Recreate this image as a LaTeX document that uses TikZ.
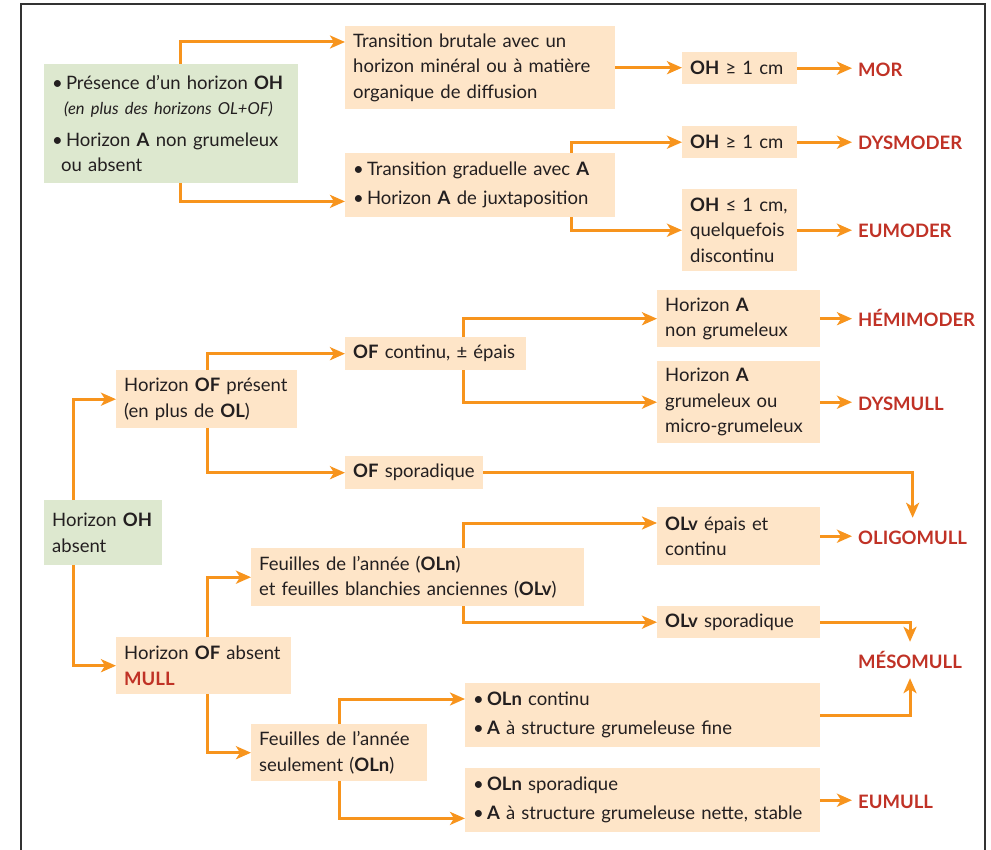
\documentclass[tikz,border=0pt]{standalone}
\usepackage{fontspec}
\setmainfont{Lato}
\usetikzlibrary{arrows.meta,positioning}
\definecolor{peach}{RGB}{254,229,200}
\definecolor{sage}{RGB}{221,232,207}
\definecolor{orng}{RGB}{247,148,29}
\definecolor{redlab}{RGB}{192,50,38}
\definecolor{txt}{RGB}{35,31,32}
\definecolor{frame}{RGB}{51,51,51}
\newcommand\smallit[1]{{\fontsize{16.5}{25}\selectfont\itshape #1}}
\newcommand\bul{\textbullet\,}
\tikzset{
    box/.style={fill=peach, anchor=north west, align=left, inner xsep=8pt, inner ysep=0pt, text=txt},
    gbox/.style={box, fill=sage},
    lab/.style={anchor=west, text=redlab, font=\fontsize{18.5}{22}\selectfont\bfseries, inner xsep=6pt, inner ysep=10pt, text height=16pt, text depth=0pt},
    arr/.style={draw=orng, line width=3pt, -{Stealth[length=15pt,width=13pt,inset=4pt]}}
}

\begin{document}
\begin{tikzpicture}[x=1pt,y=-1pt,font=\fontsize{18.5}{25.5}\selectfont]
    \useasboundingbox (0,0) rectangle (991,850);
    % Open frame around the key
    \draw[frame, line width=2.5pt] (21,850) -- (21,4) -- (985,4) -- (985,850);

    % Horizon OH present
    \node[gbox, text width=238pt, minimum height=119pt] (pres) at (44,64)
        {\bul Présence d'un horizon \textbf{OH}\\ \hspace*{12pt}\smallit{(en plus des horizons OL+OF)}\\[6pt]
         \bul Horizon \textbf{A} non grumeleux\\ \hspace*{9pt}ou absent};
    \node[box, text width=254pt, minimum height=83pt] (trans) at (345,26)
        {Transition brutale avec un\\ horizon minéral ou à matière\\ organique de diffusion};
    \node[box, text width=254pt, minimum height=64pt] (grad) at (345,153)
        {\bul Transition graduelle avec \textbf{A}\\[3.5pt] \bul Horizon \textbf{A} de juxtaposition};
    \node[box, text width=99pt, minimum height=32pt] (ohA) at (682,52) {\textbf{OH} ≥ 1 cm};
    \node[box, text width=99pt, minimum height=32pt] (ohB) at (682,126) {\textbf{OH} ≥ 1 cm};
    \node[box, text width=99pt, minimum height=82pt] (ohC) at (682,189)
        {\textbf{OH} ≤ 1 cm,\\ quelquefois\\ discontinu};

    % Horizon OH absent
    \node[gbox, text width=102pt, minimum height=65pt] (abs) at (44,500) {Horizon \textbf{OH}\\ absent};
    \node[box, text width=165pt, minimum height=58pt] (ofp) at (116,370)
        {Horizon \textbf{OF} présent\\ (en plus de \textbf{OL})};
    \node[box, text width=165pt, minimum height=33pt] (ofc) at (345,337) {\textbf{OF} continu, ± épais};
    \node[box, text width=147pt, minimum height=57pt] (hanon) at (657,290)
        {Horizon \textbf{A}\\ non grumeleux};
    \node[box, text width=147pt, minimum height=82pt] (hagrum) at (657,361)
        {Horizon \textbf{A}\\ grumeleux ou\\ micro-grumeleux};
    \node[box, text width=122pt, minimum height=33pt] (ofs) at (345,456) {\textbf{OF} sporadique};
    \node[box, text width=159pt, minimum height=57pt] (ofa) at (116,637)
        {Horizon \textbf{OF} absent\\ \textcolor{redlab}{\textbf{MULL}}};
    \node[box, text width=317pt, minimum height=58pt] (fan) at (251,548)
        {Feuilles de l’année (\textbf{OLn})\\ et feuilles blanchies anciennes (\textbf{OLv})};
    \node[box, text width=147pt, minimum height=58pt] (olve) at (657,507)
        {\textbf{OLv} épais et\\ continu};
    \node[box, text width=147pt, minimum height=32pt] (olvs) at (657,606) {\textbf{OLv} sporadique};
    \node[box, text width=160pt, minimum height=57pt] (fseul) at (251,724)
        {Feuilles de l’année\\ seulement (\textbf{OLn})};
    \node[box, text width=339pt, minimum height=64pt] (olnc) at (465,683)
        {\bul\textbf{OLn} continu\\[3.5pt] \bul\textbf{A} à structure grumeleuse fine};
    \node[box, text width=339pt, minimum height=64pt] (olns) at (465,768)
        {\bul\textbf{OLn} sporadique\\[3.5pt] \bul\textbf{A} à structure grumeleuse nette, stable};

    % Humus forms
    \foreach \name/\y/\txt in {mor/69/MOR, dysmod/142/DYSMODER, eumod/230/EUMODER,
        hemi/319/HÉMIMODER, dysmull/402/DYSMULL, oligo/536/OLIGOMULL,
        meso/660/MÉSOMULL, eumull/800/EUMULL}
        \node[lab] (\name) at (852,\y) {\txt};

    % Connectors, first block
    \draw[arr] ([xshift=9pt]pres.north) |- ([yshift=-16pt]trans.north west);
    \draw[arr] ([xshift=9pt]pres.south) |- ([yshift=16pt]grad.south west);
    \draw[arr] (trans.east) -- (trans.east -| ohA.west);
    \draw[arr] ([xshift=-44pt]grad.north east) |- (ohB.west);
    \draw[arr] ([xshift=-44pt]grad.south east) |- (ohC.west);

    % Connectors, second block
    \draw[arr] ([xshift=29pt]abs.north west) |- (ofp.west);
    \draw[arr] ([xshift=29pt]abs.south west) |- (ofa.west);
    \draw[arr] ([xshift=91pt]ofp.north west) |- (ofc.west);
    \draw[arr] ([xshift=91pt]ofp.south west) |- (ofs.west);
    \draw[arr] ([xshift=118pt]ofc.north west) |- (hanon.west);
    \draw[arr] ([xshift=118pt]ofc.south west) |- (hagrum.west);
    \draw[arr] (ofs.east) -| (oligo.north);
    \draw[arr] ([xshift=91pt]ofa.north west) |- (fan.west);
    \draw[arr] ([xshift=91pt]ofa.south west) |- (fseul.west);
    \draw[arr] ([xshift=212pt]fan.north west) |- ([yshift=-16pt]olve.north west);
    \draw[arr] ([xshift=212pt]fan.south west) |- (olvs.west);
    \draw[arr] (olvs.east) -| (meso.north);
    \draw[arr] ([xshift=88pt]fseul.north west) |- ([yshift=-16pt]olnc.north west);
    \draw[arr] ([xshift=88pt]fseul.south west) |- ([yshift=14pt]olns.south west);
    \draw[arr] (olnc.east) -| (meso.south);

    % Boxes to their humus form
    \foreach \a/\b in {ohA/mor, ohB/dysmod, ohC/eumod, hanon/hemi, hagrum/dysmull, olve/oligo, olns/eumull}
        \draw[arr] (\a.east) -- (\a.east -| \b.west);
\end{tikzpicture}
\end{document}
